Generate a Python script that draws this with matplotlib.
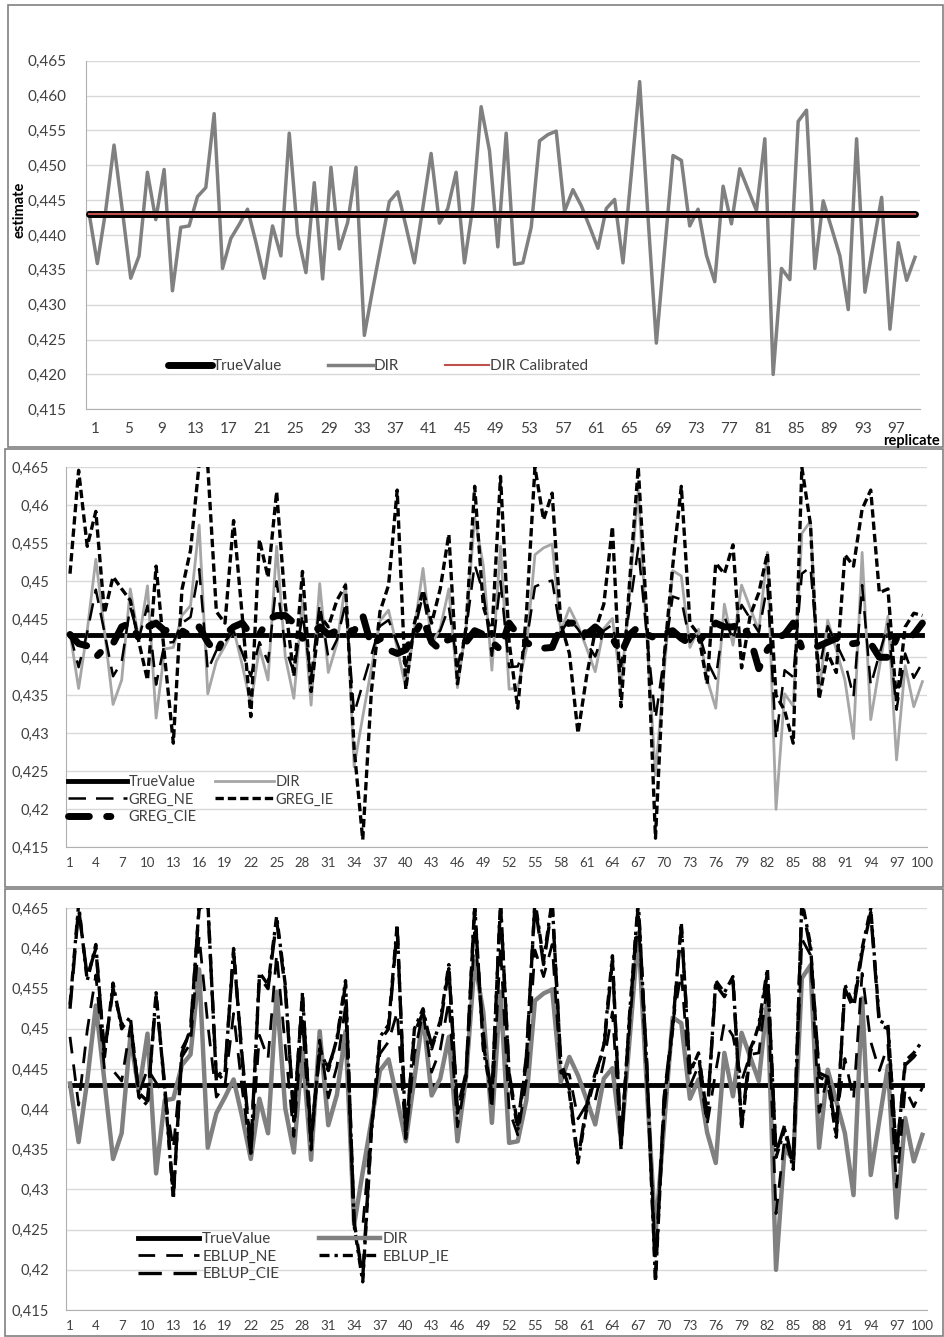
import numpy as np
import matplotlib
matplotlib.use("Agg")
import matplotlib.pyplot as plt
from matplotlib.patches import Rectangle

plt.rcParams['font.family'] = ['Lato', 'DejaVu Sans']

# ---------------- data ----------------
replicate = list(range(1, 101))
true_value = 0.443
dir_calibrated = 0.443

dir_est = [0.4432, 0.4359, 0.4435, 0.4529, 0.4435, 0.4338, 0.4370, 0.4490, 0.4422, 0.4494,
           0.4320, 0.4411, 0.4413, 0.4455, 0.4468, 0.4574, 0.4352, 0.4395, 0.4415, 0.4437,
           0.4390, 0.4338, 0.4413, 0.4370, 0.4546, 0.4401, 0.4346, 0.4475, 0.4337, 0.4497,
           0.4380, 0.4418, 0.4497, 0.4256, 0.4322, 0.4385, 0.4448, 0.4462, 0.4412, 0.4360,
           0.4438, 0.4517, 0.4417, 0.4438, 0.4490, 0.4360, 0.4440, 0.4584, 0.4521, 0.4383,
           0.4546, 0.4358, 0.4360, 0.4411, 0.4535, 0.4544, 0.4549, 0.4434, 0.4465, 0.4442,
           0.4412, 0.4381, 0.4438, 0.4451, 0.4360, 0.4488, 0.4620, 0.4426, 0.4245, 0.4380,
           0.4514, 0.4507, 0.4413, 0.4437, 0.4371, 0.4333, 0.4470, 0.4416, 0.4495, 0.4465,
           0.4435, 0.4538, 0.4200, 0.4352, 0.4336, 0.4563, 0.4579, 0.4352, 0.4449, 0.4410,
           0.4370, 0.4293, 0.4538, 0.4318, 0.4386, 0.4454, 0.4265, 0.4389, 0.4335, 0.4368]

greg_ne = [0.4431, 0.4387, 0.4433, 0.4489, 0.4433, 0.4375, 0.4394, 0.4466, 0.4425, 0.4468,
           0.4364, 0.4419, 0.4420, 0.4445, 0.4453, 0.4516, 0.4383, 0.4409, 0.4421, 0.4434,
           0.4406, 0.4375, 0.4420, 0.4394, 0.4500, 0.4413, 0.4380, 0.4457, 0.4374, 0.4470,
           0.4400, 0.4423, 0.4470, 0.4326, 0.4365, 0.4403, 0.4441, 0.4449, 0.4419, 0.4388,
           0.4435, 0.4482, 0.4422, 0.4435, 0.4466, 0.4388, 0.4436, 0.4522, 0.4485, 0.4402,
           0.4500, 0.4387, 0.4388, 0.4419, 0.4493, 0.4498, 0.4501, 0.4432, 0.4451, 0.4437,
           0.4419, 0.4401, 0.4435, 0.4443, 0.4388, 0.4465, 0.4544, 0.4428, 0.4319, 0.4400,
           0.4480, 0.4476, 0.4420, 0.4434, 0.4395, 0.4372, 0.4454, 0.4422, 0.4469, 0.4451,
           0.4433, 0.4495, 0.4292, 0.4383, 0.4374, 0.4510, 0.4519, 0.4383, 0.4441, 0.4418,
           0.4394, 0.4348, 0.4495, 0.4363, 0.4404, 0.4444, 0.4331, 0.4405, 0.4373, 0.4393]

greg_ie = [0.4510, 0.4646, 0.4546, 0.4592, 0.4458, 0.4506, 0.4490, 0.4475, 0.4420, 0.4370,
           0.4520, 0.4400, 0.4287, 0.4489, 0.4541, 0.4655, 0.4652, 0.4460, 0.4445, 0.4580,
           0.4455, 0.4322, 0.4555, 0.4505, 0.4618, 0.4470, 0.4375, 0.4513, 0.4355, 0.4455,
           0.4440, 0.4475, 0.4495, 0.4280, 0.4160, 0.4355, 0.4460, 0.4495, 0.4620, 0.4358,
           0.4445, 0.4488, 0.4445, 0.4490, 0.4562, 0.4365, 0.4440, 0.4625, 0.4467, 0.4430,
           0.4638, 0.4420, 0.4333, 0.4455, 0.4650, 0.4581, 0.4616, 0.4445, 0.4405, 0.4300,
           0.4375, 0.4435, 0.4470, 0.4572, 0.4335, 0.4500, 0.4650, 0.4450, 0.4162, 0.4400,
           0.4520, 0.4625, 0.4445, 0.4430, 0.4365, 0.4524, 0.4510, 0.4548, 0.4386, 0.4455,
           0.4485, 0.4537, 0.4350, 0.4330, 0.4287, 0.4650, 0.4575, 0.4345, 0.4405, 0.4380,
           0.4535, 0.4520, 0.4595, 0.4620, 0.4485, 0.4490, 0.4340, 0.4440, 0.4458, 0.4455]

greg_cie = [0.4430, 0.4418, 0.4415, 0.4400, 0.4412, 0.4418, 0.4440, 0.4445, 0.4425, 0.4440,
            0.4445, 0.4435, 0.4438, 0.4435, 0.4428, 0.4440, 0.4420, 0.4405, 0.4430, 0.4440,
            0.4445, 0.4430, 0.4430, 0.4450, 0.4455, 0.4455, 0.4445, 0.4425, 0.4430, 0.4440,
            0.4430, 0.4435, 0.4435, 0.4435, 0.4455, 0.4415, 0.4425, 0.4410, 0.4405, 0.4410,
            0.4430, 0.4450, 0.4420, 0.4410, 0.4425, 0.4420, 0.4420, 0.4435, 0.4430, 0.4420,
            0.4410, 0.4445, 0.4430, 0.4420, 0.4412, 0.4412, 0.4413, 0.4440, 0.4445, 0.4445,
            0.4430, 0.4440, 0.4430, 0.4425, 0.4405, 0.4430, 0.4440, 0.4430, 0.4425, 0.4432,
            0.4435, 0.4425, 0.4418, 0.4420, 0.4435, 0.4445, 0.4440, 0.4440, 0.4445, 0.4425,
            0.4385, 0.4410, 0.4425, 0.4430, 0.4445, 0.4412, 0.4412, 0.4415, 0.4420, 0.4425,
            0.4418, 0.4418, 0.4420, 0.4418, 0.4400, 0.4400, 0.4425, 0.4425, 0.4430, 0.4445]

eblup_ne = [0.4490, 0.4405, 0.4498, 0.4567, 0.4450, 0.4448, 0.4435, 0.4503, 0.4419, 0.4450,
            0.4433, 0.4418, 0.4351, 0.4465, 0.4482, 0.4615, 0.4506, 0.4415, 0.4430, 0.4519,
            0.4425, 0.4342, 0.4492, 0.4463, 0.4593, 0.4478, 0.4366, 0.4510, 0.4349, 0.4486,
            0.4414, 0.4453, 0.4529, 0.4256, 0.4254, 0.4378, 0.4469, 0.4484, 0.4521, 0.4363,
            0.4469, 0.4521, 0.4446, 0.4474, 0.4535, 0.4378, 0.4440, 0.4620, 0.4498, 0.4399,
            0.4603, 0.4399, 0.4368, 0.4436, 0.4598, 0.4565, 0.4605, 0.4445, 0.4443, 0.4388,
            0.4406, 0.4411, 0.4459, 0.4521, 0.4355, 0.4504, 0.4640, 0.4438, 0.4215, 0.4395,
            0.4507, 0.4570, 0.4429, 0.4454, 0.4381, 0.4447, 0.4508, 0.4491, 0.4435, 0.4468,
            0.4470, 0.4557, 0.4270, 0.4364, 0.4331, 0.4612, 0.4592, 0.4396, 0.4442, 0.4388,
            0.4463, 0.4412, 0.4569, 0.4484, 0.4448, 0.4480, 0.4303, 0.4425, 0.4403, 0.4427]

eblup_ie = [0.4530, 0.4655, 0.4560, 0.4605, 0.4465, 0.4557, 0.4500, 0.4515, 0.4415, 0.4405,
            0.4545, 0.4425, 0.4288, 0.4475, 0.4495, 0.4655, 0.4660, 0.4435, 0.4445, 0.4600,
            0.4460, 0.4345, 0.4570, 0.4555, 0.4640, 0.4555, 0.4385, 0.4545, 0.4360, 0.4475,
            0.4448, 0.4488, 0.4560, 0.4255, 0.4185, 0.4370, 0.4490, 0.4505, 0.4630, 0.4365,
            0.4500, 0.4525, 0.4475, 0.4510, 0.4580, 0.4395, 0.4440, 0.4655, 0.4475, 0.4415,
            0.4660, 0.4440, 0.4375, 0.4460, 0.4660, 0.4585, 0.4660, 0.4455, 0.4420, 0.4333,
            0.4400, 0.4440, 0.4480, 0.4591, 0.4350, 0.4520, 0.4660, 0.4450, 0.4185, 0.4410,
            0.4500, 0.4632, 0.4445, 0.4470, 0.4390, 0.4560, 0.4545, 0.4565, 0.4375, 0.4470,
            0.4505, 0.4575, 0.4340, 0.4375, 0.4325, 0.4660, 0.4605, 0.4440, 0.4435, 0.4365,
            0.4555, 0.4530, 0.4600, 0.4650, 0.4510, 0.4505, 0.4340, 0.4460, 0.4470, 0.4485]

eblup_cie = [0.4525, 0.4650, 0.4565, 0.4600, 0.4470, 0.4550, 0.4505, 0.4510, 0.4420, 0.4410,
             0.4540, 0.4430, 0.4292, 0.4470, 0.4500, 0.4650, 0.4655, 0.4440, 0.4450, 0.4595,
             0.4465, 0.4350, 0.4565, 0.4550, 0.4635, 0.4550, 0.4390, 0.4540, 0.4365, 0.4470,
             0.4452, 0.4485, 0.4555, 0.4260, 0.4190, 0.4375, 0.4485, 0.4500, 0.4625, 0.4370,
             0.4495, 0.4520, 0.4480, 0.4505, 0.4575, 0.4400, 0.4445, 0.4650, 0.4480, 0.4420,
             0.4655, 0.4445, 0.4380, 0.4465, 0.4655, 0.4580, 0.4655, 0.4460, 0.4425, 0.4338,
             0.4405, 0.4445, 0.4475, 0.4585, 0.4355, 0.4515, 0.4655, 0.4455, 0.4190, 0.4415,
             0.4505, 0.4627, 0.4450, 0.4465, 0.4395, 0.4555, 0.4540, 0.4560, 0.4380, 0.4475,
             0.4500, 0.4570, 0.4345, 0.4380, 0.4330, 0.4655, 0.4600, 0.4445, 0.4440, 0.4370,
             0.4550, 0.4525, 0.4595, 0.4645, 0.4505, 0.4500, 0.4345, 0.4455, 0.4465, 0.4480]

yticks = [0.415, 0.42, 0.425, 0.43, 0.435, 0.44, 0.445, 0.45, 0.455, 0.46, 0.465]
top_xticks = list(range(1, 98, 4))
low_xticks = list(range(1, 101, 3))

# ---------------- figure ----------------
W, H = 944, 1337
fig = plt.figure(figsize=(W / 100, H / 100), dpi=100)
fig.patch.set_facecolor('white')

def fx(px):
    return px / W

def fy(py):
    return 1 - py / H

txt = '#404040'
grid_c = '#d9d9d9'
x = np.array(replicate)

def style_axes(ax, ypad, xpad, fs_y, fs_x):
    ax.set_ylim(0.415, 0.465)
    ax.set_yticks(yticks)
    ax.grid(axis='y', color=grid_c, lw=1)
    ax.set_axisbelow(True)
    for s in ['top', 'right']:
        ax.spines[s].set_visible(False)
    for s in ['left', 'bottom']:
        ax.spines[s].set_color('#b0b0b0')
    ax.tick_params(axis='y', length=0, pad=ypad, labelsize=fs_y, labelcolor=txt)
    ax.tick_params(axis='x', length=0, pad=xpad, labelsize=fs_x, labelcolor=txt)

# panel frames
fig.add_artist(Rectangle((fx(8), fy(447)), fx(935), 442 / H, transform=fig.transFigure,
                         fill=False, ec='#808080', lw=1.2))
fig.add_artist(Rectangle((fx(5), fy(887)), fx(938), 438 / H, transform=fig.transFigure,
                         fill=False, ec='#808080', lw=1.2))
fig.add_artist(Rectangle((fx(5), fy(1336)), fx(938), 447 / H, transform=fig.transFigure,
                         fill=False, ec='#808080', lw=1.2))

# ---- top panel ----
ax1 = fig.add_axes([fx(86), fy(409.3), fx(920 - 86), (409.3 - 60.7) / H])
style_axes(ax1, 14, 9, 11, 11)
ax1.set_xlim(0.64, 100.6)
ax1.yaxis.set_major_formatter(plt.FuncFormatter(lambda v, p: ('%.3f' % v).replace('.', ',')))
ax1.set_xticks([k + 0.75 for k in top_xticks])
ax1.set_xticklabels([str(k) for k in top_xticks])
l_tv, = ax1.plot(x, [true_value] * len(x), color='black', lw=5, solid_capstyle='round',
                 label='TrueValue', zorder=3)
l_dir, = ax1.plot(x, dir_est, color='#808080', lw=2.5, label='DIR', zorder=2)
l_cal, = ax1.plot(x, [dir_calibrated] * len(x), color='#c0504d', lw=1.5,
                  label='DIR Calibrated', zorder=4)
leg1 = ax1.legend(handles=[l_tv, l_dir, l_cal], loc='center left',
                  bbox_to_anchor=(0.082, 0.124), ncol=3, frameon=False, fontsize=11,
                  handlelength=2.9, handletextpad=0.05, columnspacing=3.0)
for t in leg1.get_texts():
    t.set_color(txt)
fig.text(fx(20), fy(210), 'estimate', rotation=90, ha='center', va='center',
         fontsize=10.5, fontweight='bold', color='black')
fig.text(fx(912), fy(441), 'replicate', ha='center', va='center',
         fontsize=10.5, fontweight='bold', color='black')

def comma_g(v, p):
    return ('%g' % round(v, 3)).replace('.', ',')

# ---- middle panel ----
ax2 = fig.add_axes([fx(65.7), fy(847.3), fx(861), (847.3 - 467.3) / H])
style_axes(ax2, 12, 7, 10.5, 9.5)
ax2.set_xlim(0.5, 100.5)
ax2.set_xticks(low_xticks)
ax2.yaxis.set_major_formatter(plt.FuncFormatter(comma_g))
m_tv, = ax2.plot(x, [true_value] * len(x), color='black', lw=3.5, label='TrueValue', zorder=2)
m_dir, = ax2.plot(x, dir_est, color='#a6a6a6', lw=2, label='DIR', zorder=3)
m_ne, = ax2.plot(x, greg_ne, color='black', lw=1.8, dashes=(7, 4), label='GREG_NE', zorder=4)
m_ie, = ax2.plot(x, greg_ie, color='black', lw=2.4, dashes=(2.5, 1.2), label='GREG_IE', zorder=5)
m_cie, = ax2.plot(x, greg_cie, color='black', lw=5, dashes=(3, 2.5, 0.6, 2.5),
                  dash_capstyle='round', label='GREG_CIE', zorder=6)
leg2 = ax2.legend(handles=[m_tv, m_ne, m_cie, m_dir, m_ie], loc='upper left',
                  bbox_to_anchor=(-0.012, 0.225), ncol=2, frameon=False, fontsize=10.5,
                  handlelength=4.0, handletextpad=0.1, columnspacing=1.3, labelspacing=0.25)
for t in leg2.get_texts():
    t.set_color(txt)

# ---- bottom panel ----
ax3 = fig.add_axes([fx(65.7), fy(1310), fx(861), (1310 - 908.3) / H])
style_axes(ax3, 12, 7, 10.5, 9.5)
ax3.set_xlim(0.5, 100.5)
ax3.set_xticks(low_xticks)
ax3.yaxis.set_major_formatter(plt.FuncFormatter(comma_g))
b_tv, = ax3.plot(x, [true_value] * len(x), color='black', lw=3.5, label='TrueValue', zorder=2)
b_dir, = ax3.plot(x, dir_est, color='#808080', lw=3.2, label='DIR', zorder=3)
b_ne, = ax3.plot(x, eblup_ne, color='black', lw=2, dashes=(6, 4), label='EBLUP_NE', zorder=4)
b_ie, = ax3.plot(x, eblup_ie, color='black', lw=2.4, dashes=(3, 1.5, 1, 1.5), label='EBLUP_IE', zorder=5)
b_cie, = ax3.plot(x, eblup_cie, color='black', lw=2.4, dashes=(7, 3.5), label='EBLUP_CIE', zorder=5)
leg3 = ax3.legend(handles=[b_tv, b_ne, b_cie, b_dir, b_ie], loc='upper left',
                  bbox_to_anchor=(0.068, 0.228), ncol=2, frameon=False, fontsize=11,
                  handlelength=4.0, handletextpad=0.2, columnspacing=2.6, labelspacing=0.22)
for t in leg3.get_texts():
    t.set_color(txt)

fig.savefig('out.png', dpi=100, facecolor='white')
